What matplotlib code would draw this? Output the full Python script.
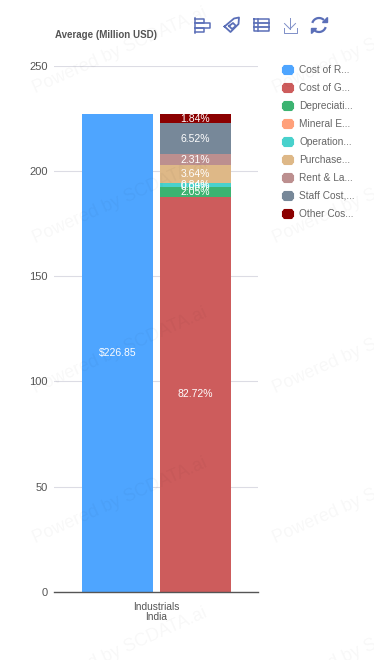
import matplotlib
matplotlib.use("Agg")
import matplotlib.pyplot as plt
from matplotlib.patches import FancyBboxPatch, Polygon, Arc
from matplotlib.lines import Line2D

plt.rcParams['font.family'] = ['Liberation Sans', 'DejaVu Sans']

W, H = 374, 660
total = 226.85
categories = ["Industrials\nIndia"]
series_names = ["Cost of R...", "Cost of G...", "Depreciati...", "Mineral E...", "Operation...",
                "Purchase...", "Rent & La...", "Staff Cost,...", "Other Cos..."]
share_pct = [82.72, 2.05, 0.08, 0.84, 3.64, 2.31, 6.52, 1.84]
share_labels = ["82.72%", "2.05%", "0.08%", "0.84%", "3.64%", "2.31%", "6.52%", "1.84%"]
colors = ["#4ea5ff", "#cd5c5c", "#3cb371", "#ffa07a", "#48d1cc", "#deb887", "#bc8f8f", "#778899", "#8b0000"]
y_ticks = [0, 50, 100, 150, 200, 250]
wm_text = "Powered by SCDATA.ai"
wm_x = [35, 275]
wm_y = [93, 243, 393, 543, 693]

fig = plt.figure(figsize=(W / 100, H / 100), dpi=100, facecolor="white")
ax = fig.add_axes([54 / W, 1 - 592 / H, 204 / W, 526.5 / H])
ax.set_ylim(0, 250)
ax.set_xlim(-0.5, 0.5)
ax.patch.set_alpha(0)

ax.yaxis.grid(True, color="#dcdce4", lw=0.8)
ax.set_axisbelow(True)
for s in ["top", "right", "left"]:
    ax.spines[s].set_visible(False)
ax.spines["bottom"].set_color("#555555")
ax.spines["bottom"].set_linewidth(1)
ax.tick_params(axis="y", length=0, labelsize=8, labelcolor="#555555", pad=4.5)
ax.tick_params(axis="x", length=0, labelsize=7.3, labelcolor="#555555", pad=7.3)
ax.set_yticks(y_ticks)
ax.set_xticks([0])
ax.set_xticklabels(categories, linespacing=1.0)

bw = 71 / 204
x1 = (117.5 - 54) / 204 - 0.5
x2 = (195.2 - 54) / 204 - 0.5
ax.bar(x1, total, bw, color=colors[0], zorder=2)
ax.text(x1, total / 2, "$226.85", color="white", fontsize=7.5, ha="center", va="center", zorder=4)
bottom = 0
for p, lab, c in zip(share_pct, share_labels, colors[1:]):
    v = total * p / 100
    ax.bar(x2, v, bw, bottom=bottom, color=c, zorder=2)
    ax.text(x2, bottom + v / 2, lab, color="white", fontsize=7.5, ha="center", va="center", zorder=4)
    bottom += v

fig.text(55 / W, 1 - 35 / H, "Average (Million USD)", fontsize=7, fontweight="bold",
         color="#555555", ha="left", va="center")

# legend
for i, (name, c) in enumerate(zip(series_names, colors)):
    y = 70 + i * 18
    fig.add_artist(FancyBboxPatch((282.5 / W, 1 - (y + 4.5) / H), 11 / W, 9 / H,
                                  boxstyle="round,pad=0,rounding_size=0.006", transform=fig.transFigure,
                                  fc=c, ec=c, lw=0.8, mutation_aspect=H / W))
    fig.text(299 / W, 1 - y / H, name, fontsize=7.3, color="#666666", ha="left", va="center")

# toolbox icons (pixel coordinates)
ic = "#5b6fb8"
def L(xs, ys, lw=1.1, c=ic):
    fig.add_artist(Line2D([x / W for x in xs], [1 - y / H for y in ys], color=c, lw=lw,
                          transform=fig.transFigure))
# bar icon
L([195, 195], [18, 32.5])
L([195, 204, 204, 195], [18.5, 18.5, 23, 23])
L([195, 210, 210, 195], [23, 23, 28, 28])
L([195, 204, 204, 195], [28, 28, 32, 32])
# tag icon
L([224.5, 234, 239, 238.5, 230.5, 224.5], [26.5, 18.5, 17.5, 24, 32, 26.5], lw=1.3)
L([229, 233, 236, 232, 229], [26, 23, 26, 29, 26], lw=1.3)
# table icon
L([253.5, 268.5, 268.5, 253.5, 253.5], [19, 19, 31, 31, 19])
L([253.5, 268.5], [23, 23], lw=1.3); L([253.5, 268.5], [27, 27], lw=1.3); L([258, 258], [19, 31])
# download icon
L([290, 290], [18, 29], lw=0.7, c="#7f8fc8")
L([284.5, 290, 295.5], [23.5, 29, 23.5], lw=0.7, c="#7f8fc8")
L([283.5, 283.5, 297, 297], [28, 32.5, 32.5, 28], lw=0.7, c="#7f8fc8")
# refresh icon
for t1, t2 in ((30, 170), (210, 350)):
    fig.add_artist(Arc((319 / W, 1 - 25 / H), 14 / W, 14 / H, theta1=t1, theta2=t2, color=ic, lw=1.6,
                       transform=fig.transFigure))
for pts in ([(322, 22), (327, 22), (327, 17)], [(316, 28), (311, 28), (311, 33)]):
    fig.add_artist(Polygon([(x / W, 1 - y / H) for x, y in pts], closed=True, fc=ic, ec=ic,
                           transform=fig.transFigure))

# watermark, faintly above everything
for x in wm_x:
    for y in wm_y:
        fig.text(x / W, 1 - y / H, wm_text, rotation=24, fontsize=13, color="#000000", alpha=0.03,
                 ha="left", va="baseline", rotation_mode="anchor", zorder=10, clip_on=True)

fig.savefig("out.png", dpi=100)
